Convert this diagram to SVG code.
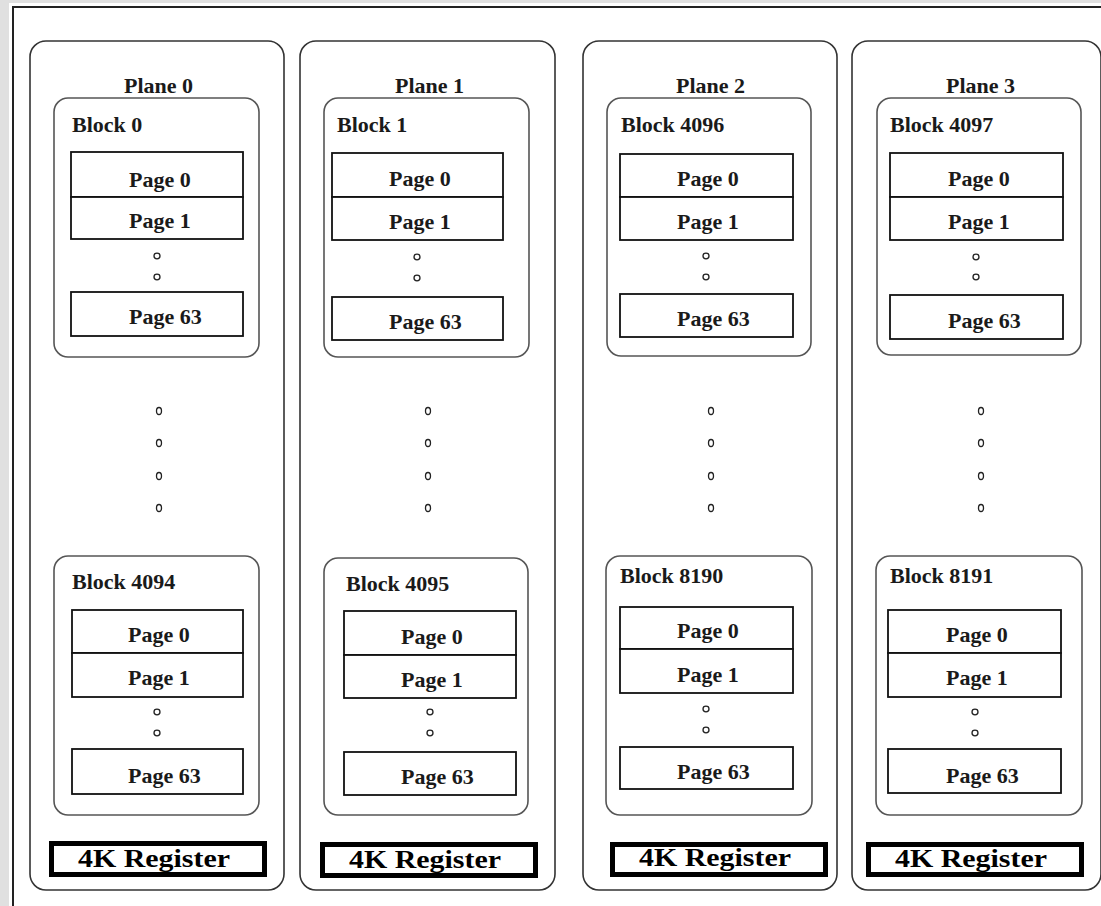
<svg xmlns="http://www.w3.org/2000/svg" width="1101" height="906" viewBox="0 0 1101 906">
<style>
.plane{fill:#fff;stroke:#333;stroke-width:1.6}
.block{fill:#fff;stroke:#555;stroke-width:1.6}
.page{fill:#fff;stroke:#111;stroke-width:1.8}
.reg{fill:#fff;stroke:#000;stroke-width:5}
.dot{fill:none;stroke:#222;stroke-width:1.3}
.lbl{font-family:'Liberation Serif','Times New Roman','DejaVu Serif',serif;font-weight:bold;font-size:22px;fill:#1a1a1a}
.rt{font-family:'Liberation Serif','Times New Roman','DejaVu Serif',serif;font-weight:bold;font-size:25px;fill:#000}
</style>
<rect x="0" y="0" width="1101" height="906" fill="#e0e0e0"/>
<rect x="9" y="3" width="1092" height="903" fill="#fff"/>
<path d="M13,906 V7 H1101" fill="none" stroke="#222" stroke-width="2"/>

<g id="plane0">
<rect class="plane" x="30" y="41" width="254" height="849" rx="16"/>
<text class="lbl" x="124" y="93">Plane 0</text>
<rect class="reg" x="51.5" y="843.5" width="213" height="31"/>
<text class="rt" x="78" y="867" textLength="152" lengthAdjust="spacingAndGlyphs">4K Register</text>
<ellipse class="dot" cx="159" cy="411" rx="2.5" ry="3.5"/><ellipse class="dot" cx="159" cy="443" rx="2.5" ry="3.5"/><ellipse class="dot" cx="159" cy="476" rx="2.5" ry="3.5"/><ellipse class="dot" cx="159" cy="508" rx="2.5" ry="3.5"/>
</g>
<g id="plane1">
<rect class="plane" x="300" y="41" width="255" height="849" rx="16"/>
<text class="lbl" x="395" y="93">Plane 1</text>
<rect class="reg" x="322.5" y="844.5" width="213" height="31"/>
<text class="rt" x="349" y="868" textLength="152" lengthAdjust="spacingAndGlyphs">4K Register</text>
<ellipse class="dot" cx="428" cy="411" rx="2.5" ry="3.5"/><ellipse class="dot" cx="428" cy="443" rx="2.5" ry="3.5"/><ellipse class="dot" cx="428" cy="476" rx="2.5" ry="3.5"/><ellipse class="dot" cx="428" cy="508" rx="2.5" ry="3.5"/>
</g>
<g id="plane2">
<rect class="plane" x="583" y="41" width="254" height="849" rx="16"/>
<text class="lbl" x="676" y="93">Plane 2</text>
<rect class="reg" x="612.5" y="844.5" width="213" height="30"/>
<text class="rt" x="639" y="866" textLength="152" lengthAdjust="spacingAndGlyphs">4K Register</text>
<ellipse class="dot" cx="711" cy="411" rx="2.5" ry="3.5"/><ellipse class="dot" cx="711" cy="443" rx="2.5" ry="3.5"/><ellipse class="dot" cx="711" cy="476" rx="2.5" ry="3.5"/><ellipse class="dot" cx="711" cy="508" rx="2.5" ry="3.5"/>
</g>
<g id="plane3">
<rect class="plane" x="852" y="41" width="249" height="849" rx="16"/>
<text class="lbl" x="946" y="93">Plane 3</text>
<rect class="reg" x="868.5" y="844.5" width="213" height="30"/>
<text class="rt" x="895" y="867" textLength="152" lengthAdjust="spacingAndGlyphs">4K Register</text>
<ellipse class="dot" cx="981" cy="411" rx="2.5" ry="3.5"/><ellipse class="dot" cx="981" cy="443" rx="2.5" ry="3.5"/><ellipse class="dot" cx="981" cy="476" rx="2.5" ry="3.5"/><ellipse class="dot" cx="981" cy="508" rx="2.5" ry="3.5"/>
</g>

<g id="block0">
<rect class="block" x="54" y="98" width="205" height="259" rx="14"/>
<text class="lbl" x="72" y="132">Block 0</text>
<rect class="page" x="71" y="152" width="172" height="45"/><text class="lbl" x="129" y="187">Page 0</text>
<rect class="page" x="71" y="197" width="172" height="42"/><text class="lbl" x="129" y="228">Page 1</text>
<ellipse class="dot" cx="157" cy="256" rx="3" ry="2.8"/><ellipse class="dot" cx="157" cy="277" rx="3" ry="2.8"/>
<rect class="page" x="71" y="292" width="172" height="44"/><text class="lbl" x="129" y="324">Page 63</text>
</g>
<g id="block1">
<rect class="block" x="324" y="98" width="205" height="259" rx="14"/>
<text class="lbl" x="337" y="132">Block 1</text>
<rect class="page" x="332" y="153" width="171" height="44"/><text class="lbl" x="389" y="186">Page 0</text>
<rect class="page" x="332" y="197" width="171" height="43"/><text class="lbl" x="389" y="229">Page 1</text>
<ellipse class="dot" cx="417" cy="257" rx="3" ry="2.8"/><ellipse class="dot" cx="417" cy="278" rx="3" ry="2.8"/>
<rect class="page" x="332" y="297" width="171" height="43"/><text class="lbl" x="389" y="329">Page 63</text>
</g>
<g id="block4096">
<rect class="block" x="607" y="98" width="204" height="258" rx="14"/>
<text class="lbl" x="621" y="132">Block 4096</text>
<rect class="page" x="620" y="154" width="173" height="43"/><text class="lbl" x="677" y="186">Page 0</text>
<rect class="page" x="620" y="197" width="173" height="43"/><text class="lbl" x="677" y="229">Page 1</text>
<ellipse class="dot" cx="706" cy="256" rx="3" ry="2.8"/><ellipse class="dot" cx="706" cy="277" rx="3" ry="2.8"/>
<rect class="page" x="620" y="294" width="173" height="43"/><text class="lbl" x="677" y="326">Page 63</text>
</g>
<g id="block4097">
<rect class="block" x="877" y="98" width="204" height="257" rx="14"/>
<text class="lbl" x="890" y="132">Block 4097</text>
<rect class="page" x="890" y="153" width="173" height="44"/><text class="lbl" x="948" y="186">Page 0</text>
<rect class="page" x="890" y="197" width="173" height="43"/><text class="lbl" x="948" y="229">Page 1</text>
<ellipse class="dot" cx="976" cy="257" rx="3" ry="2.8"/><ellipse class="dot" cx="976" cy="277" rx="3" ry="2.8"/>
<rect class="page" x="890" y="295" width="173" height="44"/><text class="lbl" x="948" y="328">Page 63</text>
</g>

<g id="block4094">
<rect class="block" x="54" y="556" width="205" height="259" rx="14"/>
<text class="lbl" x="72" y="589">Block 4094</text>
<rect class="page" x="72" y="610" width="171" height="43"/><text class="lbl" x="128" y="642">Page 0</text>
<rect class="page" x="72" y="653" width="171" height="44"/><text class="lbl" x="128" y="685">Page 1</text>
<ellipse class="dot" cx="157" cy="712" rx="3" ry="2.8"/><ellipse class="dot" cx="157" cy="733" rx="3" ry="2.8"/>
<rect class="page" x="72" y="749" width="171" height="45"/><text class="lbl" x="128" y="783">Page 63</text>
</g>
<g id="block4095">
<rect class="block" x="324" y="558" width="204" height="257" rx="14"/>
<text class="lbl" x="346" y="591">Block 4095</text>
<rect class="page" x="344" y="611" width="172" height="44"/><text class="lbl" x="401" y="644">Page 0</text>
<rect class="page" x="344" y="655" width="172" height="43"/><text class="lbl" x="401" y="687">Page 1</text>
<ellipse class="dot" cx="430" cy="712" rx="3" ry="2.8"/><ellipse class="dot" cx="430" cy="733" rx="3" ry="2.8"/>
<rect class="page" x="344" y="752" width="172" height="43"/><text class="lbl" x="401" y="784">Page 63</text>
</g>
<g id="block8190">
<rect class="block" x="606" y="556" width="206" height="259" rx="14"/>
<text class="lbl" x="620" y="583">Block 8190</text>
<rect class="page" x="620" y="607" width="173" height="42"/><text class="lbl" x="677" y="638">Page 0</text>
<rect class="page" x="620" y="649" width="173" height="44"/><text class="lbl" x="677" y="682">Page 1</text>
<ellipse class="dot" cx="706" cy="709" rx="3" ry="2.8"/><ellipse class="dot" cx="706" cy="730" rx="3" ry="2.8"/>
<rect class="page" x="620" y="747" width="173" height="42"/><text class="lbl" x="677" y="779">Page 63</text>
</g>
<g id="block8191">
<rect class="block" x="876" y="556" width="206" height="259" rx="14"/>
<text class="lbl" x="890" y="583">Block 8191</text>
<rect class="page" x="888" y="610" width="173" height="43"/><text class="lbl" x="946" y="642">Page 0</text>
<rect class="page" x="888" y="653" width="173" height="44"/><text class="lbl" x="946" y="685">Page 1</text>
<ellipse class="dot" cx="975" cy="712" rx="3" ry="2.8"/><ellipse class="dot" cx="975" cy="733" rx="3" ry="2.8"/>
<rect class="page" x="888" y="749" width="173" height="44"/><text class="lbl" x="946" y="783">Page 63</text>
</g>
<g id="connectors"/>
</svg>
